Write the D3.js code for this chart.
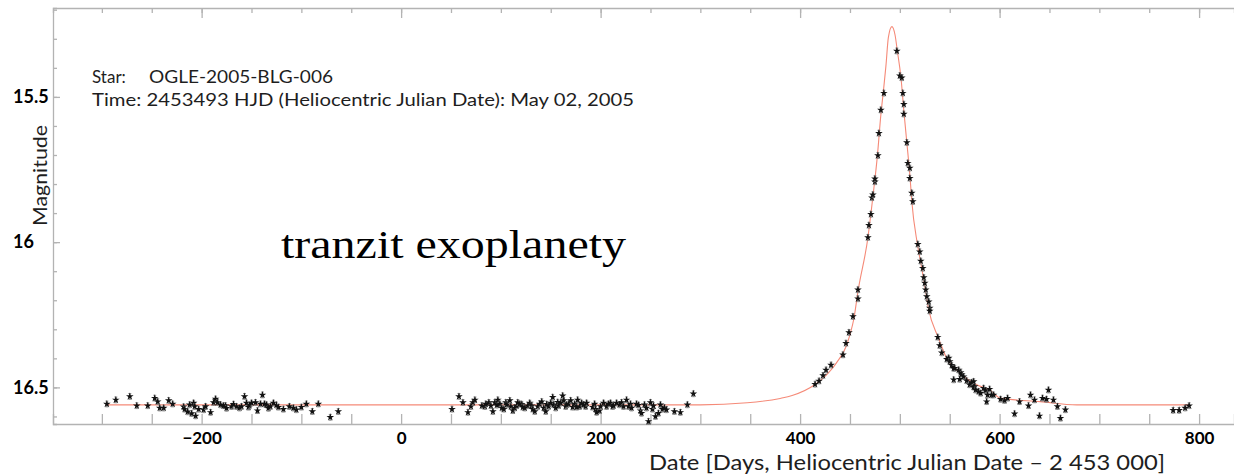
<!DOCTYPE html>
<html>
<head>
<meta charset="utf-8">
<script src="https://cdn.jsdelivr.net/npm/d3@7"></script>
<style>
  body { margin: 0; background: #fff; }
  svg { display: block; }
</style>
</head>
<body>
<div id="chart"></div>
<script>
// photometry: days after HJD 2453000, I-band magnitude
const obsDay = [
  -295, -286, -272, -265, -254, -247, -244, -242, -238, -233, -229, -218, -217, -214, -212, -210,
  -208, -207, -206, -203, -198, -196, -191, -188, -186, -184, -181, -178, -176, -175, -170, -168,
  -165, -162, -160, -157, -155, -153, -152, -150, -146, -144, -141, -139, -137, -135, -133, -131,
  -128, -125, -123, -118, -112, -108, -105, -100, -95, -89, -83, -71, -63,
  51, 58, 62, 67, 70, 72, 74, 81, 84, 85, 88, 90, 92, 94, 96, 97, 99, 101, 103, 105, 106, 109,
  110, 112, 114, 116, 117, 119, 121, 122, 124, 127, 129, 131, 132, 134, 137, 139, 141, 143, 145,
  146, 148, 150, 152, 153, 155, 157, 158, 160, 162, 163, 165, 166, 168, 170, 172, 174, 176, 177,
  179, 181, 183, 185, 186, 192, 194, 195, 196, 199, 200, 203, 206, 208, 210, 212, 213, 216, 219,
  221, 223, 226, 228, 230, 231, 236, 238, 240, 241, 244, 246, 248, 250, 252, 253, 255, 258, 260,
  262, 264, 266, 274, 280, 287, 293,
  415, 419, 423, 426, 431, 443, 446, 449, 453, 458, 458, 468, 469, 471, 472, 473, 475, 475, 478,
  479, 481, 484,
  497, 500, 502, 503, 504, 504, 507, 508, 510, 510, 512, 513, 518, 520, 521, 523, 524, 525, 526,
  527, 529, 530, 530, 538, 540, 542, 547, 549, 550, 552, 554, 554, 555, 559, 560, 561, 562, 564,
  567, 570, 572, 574, 574, 575, 576, 579, 581, 584, 586, 587, 588, 590, 592, 594, 601, 605, 608,
  615, 620, 629, 631, 635, 640, 643, 647, 649, 654, 658, 661, 666,
  774, 780, 786, 790
];
const obsMag = [
  16.557, 16.543, 16.531, 16.563, 16.563, 16.537, 16.549, 16.571, 16.571, 16.545, 16.557, 16.567,
  16.575, 16.584, 16.560, 16.590, 16.554, 16.566, 16.598, 16.575, 16.577, 16.566, 16.586, 16.552,
  16.540, 16.552, 16.560, 16.563, 16.563, 16.572, 16.566, 16.558, 16.566, 16.571, 16.566, 16.531,
  16.554, 16.568, 16.562, 16.554, 16.552, 16.580, 16.557, 16.526, 16.557, 16.560, 16.572, 16.566,
  16.554, 16.561, 16.568, 16.575, 16.566, 16.571, 16.577, 16.568, 16.557, 16.583, 16.557, 16.603,
  16.583,
  16.575, 16.531, 16.552, 16.586, 16.566, 16.552, 16.543, 16.563, 16.566, 16.557, 16.552, 16.563,
  16.583, 16.552, 16.561, 16.543, 16.557, 16.571, 16.575, 16.552, 16.560, 16.545, 16.566, 16.580,
  16.571, 16.563, 16.552, 16.557, 16.558, 16.568, 16.571, 16.563, 16.554, 16.563, 16.575, 16.583,
  16.566, 16.557, 16.549, 16.571, 16.583, 16.558, 16.566, 16.554, 16.534, 16.560, 16.571, 16.551,
  16.563, 16.554, 16.529, 16.545, 16.566, 16.560, 16.557, 16.545, 16.568, 16.557, 16.568, 16.543,
  16.566, 16.554, 16.560, 16.566, 16.554, 16.568, 16.557, 16.575, 16.586, 16.580, 16.566, 16.554,
  16.566, 16.557, 16.554, 16.566, 16.563, 16.554, 16.560, 16.552, 16.566, 16.543, 16.566, 16.557,
  16.571, 16.557, 16.561, 16.580, 16.589, 16.560, 16.571, 16.617, 16.552, 16.575, 16.563, 16.600,
  16.589, 16.560, 16.575, 16.570, 16.577, 16.583, 16.586, 16.560, 16.522,
  16.489, 16.478, 16.459, 16.440, 16.423, 16.388, 16.348, 16.311, 16.256, 16.195, 16.164, 15.984,
  15.942, 15.904, 15.847, 15.837, 15.792, 15.782, 15.702, 15.625, 15.545, 15.487,
  15.342, 15.427, 15.434, 15.487, 15.525, 15.559, 15.657, 15.728, 15.745, 15.780, 15.831, 15.860,
  16.007, 16.033, 16.065, 16.090, 16.122, 16.141, 16.164, 16.187, 16.205, 16.227, 16.237, 16.327,
  16.356, 16.381, 16.403, 16.399, 16.411, 16.424, 16.434, 16.474, 16.434, 16.440, 16.472, 16.449,
  16.455, 16.463, 16.477, 16.491, 16.483, 16.480, 16.499, 16.497, 16.509, 16.514, 16.520, 16.503,
  16.511, 16.549, 16.526, 16.506, 16.526, 16.526, 16.541, 16.545, 16.537, 16.591, 16.549, 16.563,
  16.526, 16.543, 16.598, 16.537, 16.541, 16.509, 16.543, 16.566, 16.606, 16.577,
  16.579, 16.579, 16.571, 16.563
];
const obsErr = 0.01;

// fitted model
const modelDay = [
  -295, 0, 300, 347, 380, 392, 415, 425, 431, 438, 446, 450, 454, 458, 468, 473, 477.5, 481, 483.5,
  486, 488.5, 492, 495.2, 497.5, 501, 504.3, 507, 510.3, 512, 517.6, 522, 525.3, 528.6, 538.6, 547,
  560.4, 577, 590.5, 600.5, 640.6, 677.4, 790
];
const modelMag = [
  16.560, 16.560, 16.560, 16.553, 16.538, 16.528, 16.490, 16.462, 16.440, 16.408, 16.360, 16.318,
  16.262, 16.170, 15.984, 15.843, 15.702, 15.560, 15.480, 15.395, 15.295, 15.258, 15.287, 15.342,
  15.430, 15.559, 15.657, 15.780, 15.860, 16.007, 16.090, 16.159, 16.227, 16.329, 16.400, 16.451,
  16.491, 16.509, 16.537, 16.549, 16.560, 16.560
];

const xLabelTicks = [-200, 0, 200, 400, 600, 800];
const yLabelTicks = [15.5, 16, 16.5];

const width = 1234, height = 475;
const axisColor = "#b3b3b3";

const svg = d3.select("#chart").append("svg")
    .attr("width", width)
    .attr("height", height);

const x = d3.scaleLinear().domain([-349, 835]).range([53, 1234]);
const y = d3.scaleLinear().domain([15.194, 16.626]).range([8, 424]);

const minorX = d3.range(-300, 801, 50);
const minorY = d3.range(152, 167).map(v => v / 10);

// bottom axis: ticks point up into the plot
svg.append("g")
    .attr("transform", `translate(0,424)`)
    .call(d3.axisBottom(x).tickValues(minorX).tickSize(-10).tickFormat(""));
const xLab = svg.append("g")
    .attr("transform", `translate(0,424)`)
    .call(d3.axisBottom(x).tickValues(xLabelTicks).tickSize(0).tickPadding(8));
xLab.select(".domain").remove();
xLab.selectAll("text")
    .attr("font-family", "Lato, 'Open Sans', sans-serif")
    .attr("font-weight", "bold")
    .attr("font-size", 17)
    .attr("fill", "#000");

// top frame with short ticks pointing down
svg.append("g")
    .attr("transform", `translate(0,8)`)
    .call(d3.axisTop(x).tickValues(minorX).tickSize(-5).tickFormat(""));
svg.append("g")
    .attr("transform", `translate(0,8)`)
    .call(d3.axisTop(x).tickValues(xLabelTicks).tickSize(-10).tickFormat(""))
    .select(".domain").remove();

// left axis
svg.append("g")
    .attr("transform", `translate(53,0)`)
    .call(d3.axisLeft(y).tickValues(minorY).tickSize(-4).tickFormat(""));
const yLab = svg.append("g")
    .attr("transform", `translate(53,0)`)
    .call(d3.axisLeft(y).tickValues(yLabelTicks).tickSize(-7).tickFormat(d3.format("")));
yLab.select(".domain").remove();
yLab.selectAll("text")
    .attr("x", -40)
    .attr("text-anchor", "start")
    .attr("font-family", "Lato, 'Open Sans', sans-serif")
    .attr("font-weight", "bold")
    .attr("font-size", 18)
    .attr("fill", "#000");

svg.selectAll(".domain, .tick line")
    .attr("stroke", axisColor)
    .attr("stroke-width", 1.3);

// model curve
const line = d3.line()
    .x((d, i) => x(modelDay[i]))
    .y((d, i) => y(modelMag[i]))
    .curve(d3.curveMonotoneX);

svg.append("path")
    .datum(modelDay)
    .attr("d", line)
    .attr("fill", "none")
    .attr("stroke", "#f58a78")
    .attr("stroke-width", 1.1);

// observations with error bars
const obs = obsDay.map((d, i) => ({ day: d, mag: obsMag[i] }));
const pt = svg.append("g").selectAll("g")
    .data(obs)
    .enter()
    .append("g")
    .attr("transform", d => `translate(${x(d.day)},0)`);

pt.append("line")
    .attr("y1", d => y(d.mag - obsErr))
    .attr("y2", d => y(d.mag + obsErr))
    .attr("stroke", "#666")
    .attr("stroke-width", 0.9);
pt.append("line")
    .attr("x1", -1.5).attr("x2", 1.5)
    .attr("y1", d => y(d.mag - obsErr))
    .attr("y2", d => y(d.mag - obsErr))
    .attr("stroke", "#777")
    .attr("stroke-width", 0.8);
pt.append("line")
    .attr("x1", -1.5).attr("x2", 1.5)
    .attr("y1", d => y(d.mag + obsErr))
    .attr("y2", d => y(d.mag + obsErr))
    .attr("stroke", "#777")
    .attr("stroke-width", 0.8);
pt.append("path")
    .attr("transform", d => `translate(0,${y(d.mag)})`)
    .attr("d", d3.symbol(d3.symbolStar, 18))
    .attr("fill", "#111");

// text
const sans = "Lato, 'Open Sans', sans-serif";
svg.append("text")
    .attr("x", 92).attr("y", 83)
    .attr("font-family", sans).attr("font-size", 17).attr("fill", "#1e1e1e")
    .text("Star:");
svg.append("text")
    .attr("x", 149).attr("y", 83)
    .attr("font-family", sans).attr("font-size", 17).attr("fill", "#1e1e1e")
    .attr("textLength", 184).attr("lengthAdjust", "spacingAndGlyphs")
    .text("OGLE-2005-BLG-006");
svg.append("text")
    .attr("x", 92).attr("y", 106)
    .attr("font-family", sans).attr("font-size", 17).attr("fill", "#1e1e1e")
    .attr("textLength", 542).attr("lengthAdjust", "spacingAndGlyphs")
    .text("Time: 2453493 HJD (Heliocentric Julian Date): May 02, 2005");

svg.append("text")
    .attr("x", 281).attr("y", 258)
    .attr("font-family", "'Liberation Serif', 'Times New Roman', serif")
    .attr("font-size", 40).attr("fill", "#000")
    .attr("textLength", 345).attr("lengthAdjust", "spacingAndGlyphs")
    .text("tranzit exoplanety");

svg.append("text")
    .attr("transform", "translate(47,226) rotate(-90)")
    .attr("font-family", sans).attr("font-size", 19).attr("fill", "#1e1e1e")
    .attr("textLength", 101).attr("lengthAdjust", "spacingAndGlyphs")
    .text("Magnitude");

svg.append("text")
    .attr("x", 649).attr("y", 470)
    .attr("font-family", sans).attr("font-size", 21).attr("fill", "#1e1e1e")
    .attr("textLength", 516).attr("lengthAdjust", "spacingAndGlyphs")
    .text("Date [Days, Heliocentric Julian Date \u2013 2 453 000]");
</script>
</body>
</html>
